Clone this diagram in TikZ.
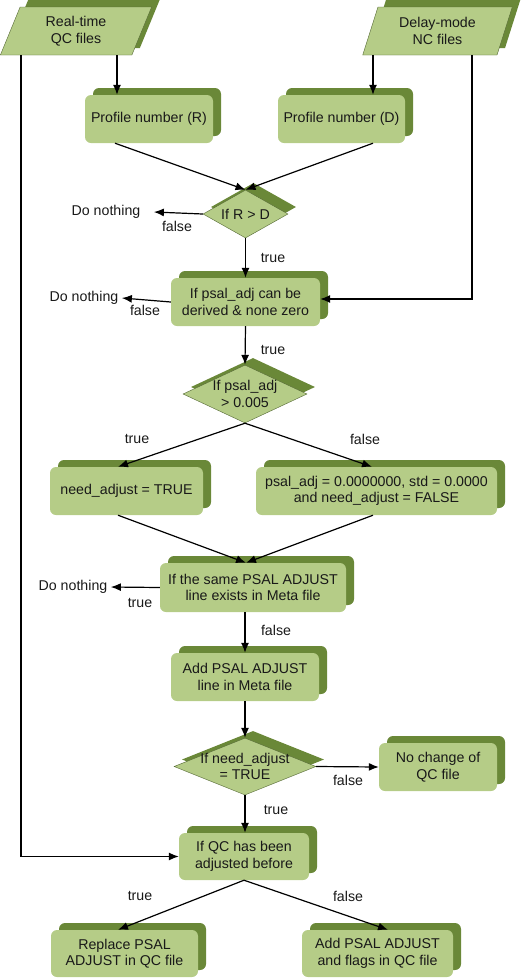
\documentclass[tikz,border=0pt]{standalone}
\usepackage{fontspec}
\setmainfont{Liberation Sans}
\usetikzlibrary{shapes.geometric,shadows,arrows.meta}
\definecolor{leaf}{RGB}{181,204,135}
\definecolor{moss}{RGB}{106,136,56}
\definecolor{rim}{RGB}{84,104,52}

\begin{document}
\begin{tikzpicture}[x=1pt,y=-1pt,
    every node/.style={font=\fontsize{14.2}{16.5}\selectfont,text=black!90},
    stack/.style={general shadow={fill=moss,shadow xshift=8pt,shadow yshift=7pt}},
    proc/.style={stack,rectangle,rounded corners=6pt,fill=leaf,align=center,inner sep=0pt,minimum height=48pt},
    data/.style={stack,trapezium,trapezium left angle=70,trapezium right angle=110,
                 trapezium stretches=true,fill=leaf,draw=rim,align=center,inner sep=0pt,minimum height=48pt},
    test/.style={stack,diamond,fill=leaf,draw=rim,inner sep=0pt},
    flow/.style={-{Latex[length=10pt,width=8pt]},line width=1.2pt}]
    \useasboundingbox (0,0) rectangle (527,978);

    %input files
    \node[data,minimum width=152pt] (rtqc) at (76,31) {Real-time\\QC files};
    \node[data,minimum width=151pt] (dmnc) at (437.5,31) {Delay-mode\\NC files};

    %profile numbers
    \node[proc,minimum width=128pt] (profR) at (149,119) {Profile number (R)};
    \node[proc,minimum width=127pt] (profD) at (341.5,119) {Profile number (D)};

    %R > D
    \node[test,minimum width=85pt,minimum height=48pt,label={center:If R > D}] (cmpRD) at (245.5,214) {};
    \node (noop1) at (106,212) {Do nothing};

    %psal_adj checks
    \node[proc,minimum width=149pt] (chkPsal) at (245.5,302) {If psal\_adj can be\\derived \& none zero};
    \node (noop2) at (84,298) {Do nothing};
    \node[test,minimum width=124pt,minimum height=58pt,
          label={[align=center]center:{If psal\_adj\\> 0.005}}] (cmpAdj) at (245,394) {};

    %need_adjust
    \node[proc,minimum width=153pt] (setTrue) at (126.5,491) {need\_adjust = TRUE};
    \node[proc,minimum width=241pt] (setFalse) at (376.5,491) {psal\_adj = 0.0000000, std = 0.0000\\and need\_adjust = FALSE};

    %Meta file
    \node[proc,minimum width=186pt,minimum height=49pt] (chkMeta) at (253,587.5) {If the same PSAL ADJUST\\line exists in Meta file};
    \node (noop3) at (73,587) {Do nothing};
    \node[proc,minimum width=148pt] (addMeta) at (245,677) {Add PSAL ADJUST\\line in Meta file};

    %QC file
    \node[test,minimum width=142pt,minimum height=57pt,
          label={[align=center]center:{If need\_adjust\\= TRUE}}] (needAdj) at (245,766.5) {};
    \node[proc,minimum width=118pt] (noChange) at (438,767) {No change of\\QC file};
    \node[proc,minimum width=130pt,minimum height=47pt] (chkQC) at (244,856.5) {If QC has been\\adjusted before};
    \node[proc,minimum width=147pt,minimum height=47pt] (replQC) at (124.5,953.5) {Replace PSAL\\ADJUST in QC file};
    \node[proc,minimum width=151pt,minimum height=47pt] (addQC) at (377.5,953.5) {Add PSAL ADJUST\\and flags in QC file};

    %branch labels
    \node (f1) at (177,226) {false};
    \node (t1) at (273,258) {true};
    \node (f2) at (145,310) {false};
    \node (t2) at (273,350) {true};
    \node (t3) at (137,439) {true};
    \node (f3) at (365,439) {false};
    \node (t4) at (140,603) {true};
    \node (f4) at (276,630) {false};
    \node (f5) at (348,780) {false};
    \node (t5) at (276,810) {true};
    \node (t6) at (140,896) {true};
    \node (f6) at (348,896) {false};

    %connectors
    \draw[flow] (rtqc.south -| 117,0) -- (profR.north -| 117,0);
    \draw[flow] (dmnc.south -| 373,0) -- (profD.north -| 373,0);
    \draw[flow] (profR.south -| 115,0) -- (cmpRD.north);
    \draw[flow] (profD.south -| 373,0) -- (cmpRD.north);
    \draw[flow] (cmpRD.west) -- ([xshift=10pt]noop1.east);
    \draw[flow] (cmpRD.south) -- (chkPsal.north);
    \draw[flow] (dmnc.south -| 472,0) |- ([yshift=3pt]chkPsal.east);
    \draw[flow] (chkPsal.west) -- (noop2.east);
    \draw[flow] (chkPsal.south) -- (cmpAdj.north);
    \draw[flow] (cmpAdj.south) -- (setTrue.north -| 118,0);
    \draw[flow] (cmpAdj.south) -- (setFalse.north -| 372,0);
    \draw[flow] (setTrue.south -| 118,0) -- (chkMeta.north -| 246,0);
    \draw[flow] (setFalse.south -| 373,0) -- (chkMeta.north -| 246,0);
    \draw[flow] (chkMeta.west) -- (noop3.east);
    \draw[flow] (chkMeta.south -| 245,0) -- (addMeta.north);
    \draw[flow] (addMeta.south) -- (needAdj.north);
    \draw[flow] (needAdj.east) -- (noChange.west);
    \draw[flow] (needAdj.south) -- (chkQC.north -| needAdj.south);
    \draw[flow] (rtqc.south -| 21,0) |- (chkQC.west);
    \draw[flow] (chkQC.south) -- (replQC.north -| 118,0);
    \draw[flow] (chkQC.south) -- (addQC.north -| 388,0);

  \end{tikzpicture}
\end{document}
